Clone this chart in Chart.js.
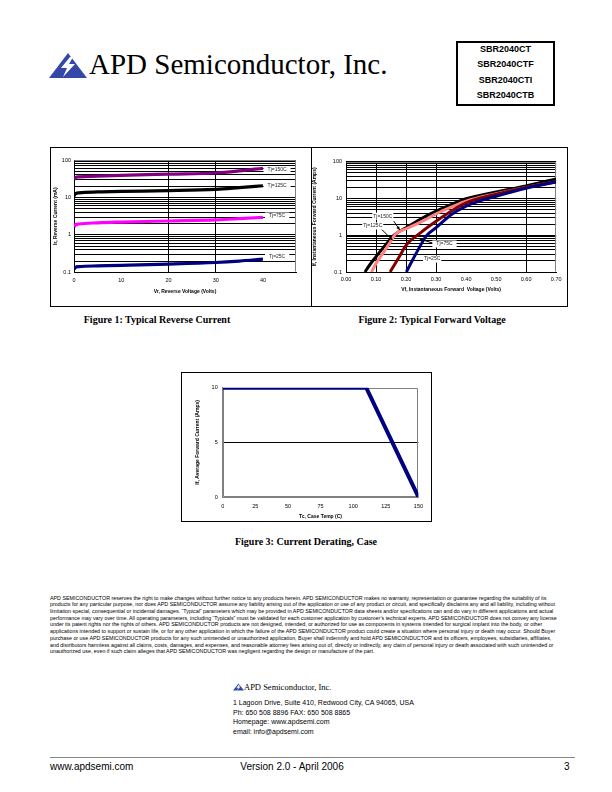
<!DOCTYPE html>
<html><head><meta charset="utf-8">
<script src="https://cdn.jsdelivr.net/npm/chart.js@4.4.1/dist/chart.umd.min.js"></script>
<style>
html,body{margin:0;padding:0;background:#fff;}
body{width:612px;height:792px;position:relative;overflow:hidden;font-family:"Liberation Sans",Arial,sans-serif;color:#000;}
.a{position:absolute;}
.cap{position:absolute;font-family:"Liberation Serif","Times New Roman",serif;font-weight:bold;font-size:10px;white-space:nowrap;transform:translate(-50%,-50%);}
.disc{position:absolute;left:50px;top:594.6px;font-size:5.33px;line-height:6.7px;white-space:nowrap;}
.hl{position:absolute;background:#000;}
</style></head>
<body>
<!-- header -->
<svg class="a" style="left:49px;top:53px" width="38" height="25" viewBox="0 0 38 25">
  <polygon points="0,25 19,0 38,25" fill="#3348a8"/>
  <polygon points="21,4 12,15 18,15 14,24 26,11 20,11 24,4" fill="#fff"/>
</svg>
<div class="a" style="left:89px;top:50px;font-family:'Liberation Serif','Times New Roman',serif;font-size:29px;line-height:29px;white-space:nowrap;">APD Semiconductor, Inc.</div>
<div class="a" style="left:456px;top:41px;width:95px;height:61px;border:2px solid #000;"></div>
<div class="a" style="left:458px;top:42px;width:95px;font-weight:bold;font-size:9px;line-height:15.3px;text-align:center;">SBR2040CT<br>SBR2040CTF<br>SBR2040CTI<br>SBR2040CTB</div>

<!-- figure 1/2 frame -->
<div class="hl" style="left:50px;top:147px;width:518px;height:1px"></div>
<div class="hl" style="left:50px;top:306px;width:518px;height:1px"></div>
<div class="hl" style="left:50px;top:147px;width:1px;height:160px"></div>
<div class="hl" style="left:311px;top:147px;width:1px;height:160px"></div>
<div class="hl" style="left:567px;top:147px;width:1px;height:160px"></div>
<canvas id="c1" class="a" style="left:52px;top:149px" width="256" height="155"></canvas>
<canvas id="c2" class="a" style="left:312px;top:149px" width="254" height="155"></canvas>
<div class="cap" style="left:157px;top:319px">Figure 1: Typical Reverse Current</div>
<div class="cap" style="left:432px;top:319px">Figure 2: Typical Forward Voltage</div>

<!-- figure 3 -->
<div class="a" style="left:181px;top:372px;width:249px;height:148px;border:1px solid #000;"></div>
<canvas id="c3" class="a" style="left:183px;top:374px" width="246" height="146"></canvas>
<div class="cap" style="left:306px;top:541px">Figure 3: Current Derating, Case</div>

<!-- disclaimer -->
<div class="disc">APD SEMICONDUCTOR reserves the right to make changes without further notice to any products herein. APD SEMICONDUCTOR makes no warranty, representation or guarantee regarding the suitability of its<br>products for any particular purpose, nor does APD SEMICONDUCTOR assume any liability arising out of the application or use of any product or circuit, and specifically disclaims any and all liability, including without<br>limitation special, consequential or incidental damages. “Typical” parameters which may be provided in APD SEMICONDUCTOR data sheets and/or specifications can and do vary in different applications and actual<br>performance may vary over time. All operating parameters, including “Typicals” must be validated for each customer application by customer’s technical experts. APD SEMICONDUCTOR does not convey any license<br>under its patent rights nor the rights of others. APD SEMICONDUCTOR products are not designed, intended, or authorized for use as components in systems intended for surgical implant into the body, or other<br>applications intended to support or sustain life, or for any other application in which the failure of the APD SEMICONDUCTOR product could create a situation where personal injury or death may occur. Should Buyer<br>purchase or use APD SEMICONDUCTOR products for any such unintended or unauthorized application, Buyer shall indemnify and hold APD SEMICONDUCTOR and its officers, employees, subsidiaries, affiliates,<br>and distributors harmless against all claims, costs, damages, and expenses, and reasonable attorney fees arising out of, directly or indirectly, any claim of personal injury or death associated with such unintended or<br>unauthorized use, even if such claim alleges that APD SEMICONDUCTOR was negligent regarding the design or manufacture of the part.</div>

<!-- contact -->
<svg class="a" style="left:233px;top:683px" width="11" height="8" viewBox="0 0 38 25">
  <polygon points="0,25 19,0 38,25" fill="#3348a8"/>
  <polygon points="21,4 12,15 18,15 14,24 26,11 20,11 24,4" fill="#fff"/>
</svg>
<div class="a" style="left:244px;top:682px;font-family:'Liberation Serif','Times New Roman',serif;font-size:8.5px;line-height:10px;white-space:nowrap;">APD Semiconductor, Inc.</div>
<div class="a" style="left:233px;top:698px;font-size:7px;line-height:9.5px;white-space:nowrap;">1 Lagoon Drive, Suite 410, Redwood City, CA 94065, USA<br>Ph: 650 508 8896 FAX: 650 508 8865<br>Homepage: www.apdsemi.com<br>email: info@apdsemi.com</div>

<!-- footer -->
<div class="a" style="left:50px;top:757px;width:525px;height:1px;background:#888"></div>
<div class="a" style="left:50px;top:761px;font-size:10px;line-height:12px;">www.apdsemi.com</div>
<div class="a" style="left:292px;top:761px;font-size:10px;line-height:12px;transform:translateX(-50%);white-space:nowrap;">Version 2.0 - April 2006</div>
<div class="a" style="left:564px;top:761px;font-size:10px;line-height:12px;">3</div>

<script>
// ---------- data ----------
// Figure 1: reverse current (mA) vs reverse voltage (V)
const vr     = [0, 0.3, 1, 5, 10, 20, 30, 35, 40];
const ir150  = [30, 34, 35.5, 37, 39, 42, 45, 51, 60];
const ir125  = [11, 12.5, 13.3, 14, 14.5, 15.2, 16.5, 18.3, 20.5];
const ir75   = [1.65, 1.85, 1.95, 2.1, 2.2, 2.35, 2.5, 2.7, 2.95];
const ir25   = [0.12, 0.135, 0.142, 0.148, 0.153, 0.165, 0.183, 0.2, 0.225];
const vrTicks = [0, 10, 20, 30, 40];
const vrGridAt = [20, 30];

// Figure 2: forward current (A) vs forward voltage (V)
const vf150 = [0.063, 0.08, 0.10, 0.12, 0.14, 0.16, 0.18, 0.20, 0.25, 0.30, 0.35, 0.40, 0.50, 0.60, 0.70];
const if150 = [0.1, 0.16, 0.26, 0.42, 0.66, 1.0, 1.3, 1.6, 2.8, 4.5, 6.8, 9.8, 15, 22, 34];
const vf125 = [0.085, 0.10, 0.12, 0.14, 0.166, 0.20, 0.25, 0.30, 0.35, 0.40, 0.50, 0.60, 0.70];
const if125 = [0.1, 0.17, 0.3, 0.52, 1.1, 1.5, 2.3, 3.8, 5.8, 8.5, 13.5, 20, 28];
const vf75  = [0.147, 0.16, 0.18, 0.20, 0.25, 0.30, 0.35, 0.40, 0.50, 0.60, 0.70];
const if75  = [0.1, 0.15, 0.28, 0.53, 1.2, 2.4, 4.5, 7.6, 13, 20, 28.5];
const vf25  = [0.201, 0.22, 0.24, 0.267, 0.30, 0.35, 0.40, 0.45, 0.50, 0.60, 0.70];
const if25  = [0.1, 0.2, 0.4, 0.95, 1.6, 3.6, 6.2, 8.8, 11.5, 19, 28];
const vfGridAt = [0.1, 0.2, 0.3, 0.6];

// Figure 3: derating
const tc  = [0, 110, 150];
const ifav = [10, 10, 0];
const tcTicks = [0, 25, 50, 75, 100, 125, 150];
const ifavTicks = [0, 5, 10];

// log axis decades
const decades = [0.1, 1, 10, 100];

// ---------- helpers ----------
const F = "'Liberation Sans', Arial, sans-serif";
function logTicks(decs){
  const t = [];
  for (let i = 0; i < decs.length - 1; i++){
    for (let m = 1; m <= 9; m++) t.push(+(m*decs[i]).toPrecision(6));
  }
  t.push(decs[decs.length-1]);
  return t;
}
const pts = (xs, ys) => xs.map((x,i)=>({x, y: ys[i]}));
const tickFont = {family:F, size:5.5};
const titleFont = {family:F, size:5, weight:'bold'};

const decor = {
  id:'decor',
  beforeDatasetsDraw(chart, args, o){
    const {ctx, chartArea:a} = chart;
    ctx.save();
    ctx.strokeStyle = o.frame || '#808080';
    ctx.lineWidth = 1;
    ctx.beginPath();
    const L = Math.round(a.left)+0.5, R = Math.round(a.right)-0.5, T = Math.round(a.top)+0.5, B = Math.round(a.bottom)-0.5;
    if (o.full){ ctx.rect(L, T, R-L, B-T); }
    else { ctx.moveTo(L, T); ctx.lineTo(R, T); ctx.lineTo(R, B); }
    ctx.stroke();
    ctx.restore();
  },
  afterDatasetsDraw(chart, args, o){
    const {ctx} = chart;
    const xs = chart.scales.x, ys = chart.scales.y;
    ctx.save();
    (o.arrows||[]).forEach(ar=>{
      const x1 = xs.getPixelForValue(ar.x1), y1 = ys.getPixelForValue(ar.y1);
      const x2 = xs.getPixelForValue(ar.x2), y2 = ys.getPixelForValue(ar.y2);
      ctx.strokeStyle = '#000'; ctx.fillStyle = '#000'; ctx.lineWidth = 1;
      ctx.beginPath(); ctx.moveTo(x1,y1); ctx.lineTo(x2,y2); ctx.stroke();
      const ang = Math.atan2(y2-y1, x2-x1), h = 4;
      ctx.beginPath(); ctx.moveTo(x2,y2);
      ctx.lineTo(x2 - h*Math.cos(ang-0.45), y2 - h*Math.sin(ang-0.45));
      ctx.lineTo(x2 - h*Math.cos(ang+0.45), y2 - h*Math.sin(ang+0.45));
      ctx.closePath(); ctx.fill();
    });
    ctx.font = "5px " + F;
    ctx.textAlign = 'center'; ctx.textBaseline = 'middle';
    (o.labels||[]).forEach(l=>{
      const x = xs.getPixelForValue(l.x), y = ys.getPixelForValue(l.y);
      const w = ctx.measureText(l.text).width + (l.pad||4)*2;
      ctx.fillStyle = '#fff';
      ctx.fillRect(x - w/2, y - 3.5, w, 7);
      ctx.fillStyle = '#222';
      ctx.fillText(l.text, x, y);
    });
    ctx.restore();
  }
};

function lineDs(data, color, w){
  return {data, borderColor: color, backgroundColor: color, borderWidth: w, pointRadius: 0,
          cubicInterpolationMode: 'monotone', fill: false};
}

const common = {
  responsive: false, animation: false, devicePixelRatio: 1,
  plugins: {legend: {display: false}, tooltip: {enabled: false}},
  parsing: false
};

// ---------- Figure 1 ----------
new Chart(document.getElementById('c1'), {
  type: 'line',
  data: {datasets: [
    lineDs(pts(vr, ir25), '#000080', 3.2),
    lineDs(pts(vr, ir75), '#ff00ff', 3.2),
    lineDs(pts(vr, ir125), '#000000', 3.2),
    lineDs(pts(vr, ir150), '#800080', 3.2)
  ]},
  options: Object.assign({}, common, {
    layout: {padding: {left: 0, top: 11, right: 12, bottom: 9.7}},
    plugins: Object.assign({}, common.plugins, {decor: {labels: [
      {text: 'Tj=150C', x: 43, y: 54},
      {text: 'Tj=125C', x: 43, y: 20.7},
      {text: 'Tj=75C',  x: 43, y: 3.2},
      {text: 'Tj=25C',  x: 43, y: 0.27}
    ]}}),
    scales: {
      x: {type: 'linear', min: 0, max: 47,
        afterBuildTicks: s => { s.ticks = vrTicks.map(v => ({value: v})); },
        grid: {color: c => (c.tick && vrGridAt.includes(c.tick.value)) ? '#000' : 'rgba(0,0,0,0)', drawTicks: false, lineWidth: 1},
        border: {color: '#000', width: 1},
        ticks: {font: tickFont, color: '#000', padding: 4.5, maxRotation: 0, autoSkip: false},
        title: {display: true, text: 'Vr, Reverse Voltage (Volts)', font: titleFont, color: '#000', padding: {top: 0, bottom: 0}},
        afterFit: s => { s.height = 22; }
      },
      y: {type: 'logarithmic', min: 0.1, max: 100,
        afterBuildTicks: s => { s.ticks = logTicks(decades).map(v => ({value: v})); },
        grid: {color: '#000', drawTicks: false, lineWidth: 1},
        border: {color: '#000', width: 1},
        ticks: {font: tickFont, color: '#000', padding: 3, autoSkip: false,
          callback: v => decades.includes(v) ? String(v) : ''},
        title: {display: true, text: 'Ir, Reverse Current (mA)', font: titleFont, color: '#000', padding: {top: 1, bottom: 0}},
        afterFit: s => { s.width = 22; }
      }
    }
  }),
  plugins: [decor]
});

// ---------- Figure 2 ----------
new Chart(document.getElementById('c2'), {
  type: 'line',
  data: {datasets: [
    lineDs(pts(vf25, if25), '#000080', 3),
    lineDs(pts(vf75, if75), '#800000', 3),
    lineDs(pts(vf125, if125), '#ff8080', 3),
    lineDs(pts(vf150, if150), '#000000', 3)
  ]},
  options: Object.assign({}, common, {
    layout: {padding: {left: 0, top: 12.7, right: 8.7, bottom: 11.4}},
    plugins: Object.assign({}, common.plugins, {decor: {
      labels: [
        {text: 'Tj=150C', x: 0.1226, y: 3.3, pad: 1},
        {text: 'Tj=125C', x: 0.089, y: 1.78, pad: 1},
        {text: 'Tj=75C',  x: 0.328, y: 0.58, pad: 4},
        {text: 'Tj=25C',  x: 0.287, y: 0.225, pad: 1}
      ],
      arrows: [
        {x1: 0.159, y1: 2.43, x2: 0.179, y2: 1.38},
        {x1: 0.118, y1: 1.47, x2: 0.155, y2: 0.73},
        {x1: 0.298, y1: 0.58, x2: 0.245, y2: 0.79}
      ]
    }}),
    scales: {
      x: {type: 'linear', min: 0, max: 0.7,
        ticks: {stepSize: 0.1, font: tickFont, color: '#000', padding: 4.5, maxRotation: 0, autoSkip: false,
          callback: v => v.toFixed(2)},
        grid: {color: c => (c.tick && vfGridAt.includes(Math.round(c.tick.value*10)/10)) ? '#000' : 'rgba(0,0,0,0)', drawTicks: false, lineWidth: 1},
        border: {color: '#000', width: 1},
        title: {display: true, text: 'Vf, Instantaneous Forward  Voltage (Volts)', font: titleFont, color: '#000', padding: {top: 0, bottom: 0}},
        afterFit: s => { s.height = 20.6; }
      },
      y: {type: 'logarithmic', min: 0.1, max: 100,
        afterBuildTicks: s => { s.ticks = logTicks(decades).map(v => ({value: v})); },
        grid: {color: '#000', drawTicks: false, lineWidth: 1},
        border: {color: '#000', width: 1},
        ticks: {font: tickFont, color: '#000', padding: 4, autoSkip: false,
          callback: v => decades.includes(v) ? String(v) : ''},
        title: {display: true, text: 'If, Instantaneous Forward Current (Amps)', font: titleFont, color: '#000', padding: {top: 0, bottom: 0}},
        afterFit: s => { s.width = 34; }
      }
    }
  }),
  plugins: [decor]
});

// ---------- Figure 3 ----------
new Chart(document.getElementById('c3'), {
  type: 'line',
  data: {datasets: [
    Object.assign(lineDs(pts(tc, ifav), '#000080', 4), {cubicInterpolationMode: 'default', tension: 0})
  ]},
  options: Object.assign({}, common, {
    layout: {padding: {left: 0, top: 13.7, right: 6.3, bottom: 0.4}},
    plugins: Object.assign({}, common.plugins, {decor: {full: true}}),
    scales: {
      x: {type: 'linear', min: 0, max: 150,
        afterBuildTicks: s => { s.ticks = tcTicks.map(v => ({value: v})); },
        grid: {display: false, drawTicks: false},
        border: {color: '#808080', width: 1},
        ticks: {font: tickFont, color: '#000', padding: 6, maxRotation: 0, autoSkip: false},
        title: {display: true, text: 'Tc, Case Temp (C)', font: titleFont, color: '#000', padding: {top: 0, bottom: 0}},
        afterFit: s => { s.height = 22.6; }
      },
      y: {type: 'linear', min: 0, max: 10,
        afterBuildTicks: s => { s.ticks = ifavTicks.map(v => ({value: v})); },
        grid: {color: c => (c.tick && c.tick.value === 5) ? '#000' : 'rgba(0,0,0,0)', drawTicks: false, lineWidth: 1},
        border: {color: '#808080', width: 1},
        ticks: {font: tickFont, color: '#000', padding: 5, autoSkip: false},
        title: {display: true, text: 'If, Average Forward Current (Amps)', font: titleFont, color: '#000', padding: {top: 11.7, bottom: 0}},
        afterFit: s => { s.width = 39.7; }
      }
    }
  }),
  plugins: [decor]
});
</script>
</body></html>
